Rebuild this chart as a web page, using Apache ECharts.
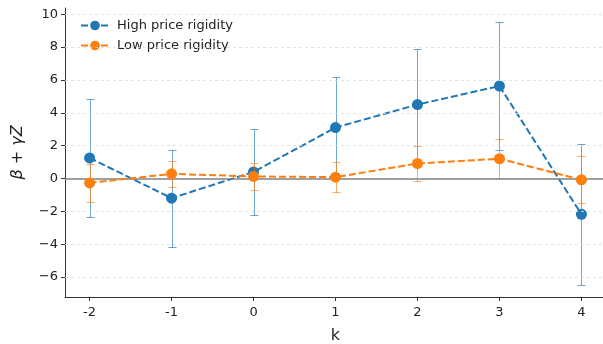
<!DOCTYPE html>
<html><head><meta charset="utf-8">
<script src="https://cdn.jsdelivr.net/npm/echarts@6/dist/echarts.min.js"></script>
<style>html,body{margin:0;padding:0;background:#fff;overflow:hidden}#c{width:603px;height:344px}</style>
</head><body><div id="c"></div>
<script>
var categories = [-2, -1, 0, 1, 2, 3, 4];
var highMean = [1.25, -1.2, 0.4, 3.1, 4.5, 5.63, -2.18];
var highErr  = [3.6, 2.95, 2.6, 3.1, 3.37, 3.9, 4.3];
var lowMean  = [-0.27, 0.28, 0.12, 0.08, 0.91, 1.2, -0.08];
var lowErr   = [1.17, 0.8, 0.83, 0.93, 1.07, 1.2, 1.42];
var xTicks = [-2, -1, 0, 1, 2, 3, 4];
var yTicks = [-6, -4, -2, 0, 2, 4, 6, 8, 10];

var BLUE = '#1f77b4', ORANGE = '#ff7f0e';
var FONT = 'DejaVu Sans';

function pts(m){ return categories.map(function(k,i){ return [k, m[i]]; }); }
function errs(m,e){ return categories.map(function(k,i){ return [k, m[i]-e[i], m[i]+e[i]]; }); }

function errRender(color){
  return function(params, api){
    var x = api.value(0), lo = api.value(1), hi = api.value(2);
    var p1 = api.coord([x, lo]), p2 = api.coord([x, hi]);
    var cx = Math.round(p1[0]) + 0.5;
    var y1 = Math.round(p1[1]) + 0.5, y2 = Math.round(p2[1]) + 0.5;
    var cw = 4;
    var st = {stroke: color, lineWidth: 1, opacity: 0.65};
    return {type:'group', children:[
      {type:'line', shape:{x1:cx,y1:y1,x2:cx,y2:y2}, style:st},
      {type:'line', shape:{x1:cx-cw,y1:y1,x2:cx+cw,y2:y1}, style:st},
      {type:'line', shape:{x1:cx-cw,y1:y2,x2:cx+cw,y2:y2}, style:st}
    ]};
  };
}

var gridLines = yTicks.filter(function(v){return v!==0;}).map(function(v){return {yAxis:v};});

var chart = echarts.init(document.getElementById('c'), null, {renderer:'canvas'});
chart.setOption({
  animation:false,
  textStyle:{fontFamily:FONT},
  grid:{left:65, top:8, width:541, bottom:47, containLabel:false, outerBoundsMode:'none'},
  legend:{
    left:75, top:14, orient:'vertical', itemWidth:28, itemHeight:12, itemGap:7,
    textStyle:{fontFamily:FONT, fontSize:13, color:'#222', padding:[0,0,0,3]},
    data:['High price rigidity','Low price rigidity']
  },
  xAxis:{
    type:'value', min:-2.3, max:4.3,
    name:'k', nameLocation:'middle', nameGap:31,
    nameTextStyle:{fontFamily:FONT, fontSize:16, color:'#222'},
    axisLine:{show:true, onZero:false, lineStyle:{color:'#333', width:1}},
    axisTick:{show:true, length:4, lineStyle:{color:'#333'}, customValues:xTicks},
    axisLabel:{fontFamily:FONT, fontSize:13, color:'#222', margin:9, customValues:xTicks},
    splitLine:{show:false}
  },
  yAxis:{
    type:'value', min:-7.22, max:10.38,
    name:'{i|β} + {i|γZ}', nameLocation:'middle', nameGap:39, nameRotate:90,
    nameTextStyle:{fontFamily:FONT, fontSize:16, color:'#222', rich:{i:{fontStyle:'italic', fontFamily:FONT, fontSize:16, color:'#222'}}},
    axisLine:{show:true, onZero:false, lineStyle:{color:'#333', width:1}},
    axisTick:{show:true, length:4, lineStyle:{color:'#333'}, customValues:yTicks},
    axisLabel:{fontFamily:FONT, fontSize:13, color:'#222', margin:7, customValues:yTicks,
      formatter:function(v){ return String(v).replace('-', '\u2212'); }},
    splitLine:{show:false}
  },
  series:[
    {type:'line', data:[], silent:true, z:1,
      markLine:{silent:true, symbol:'none', label:{show:false},
        lineStyle:{color:'#dddddd', type:[3,3], width:0.8}, data:gridLines}},
    {type:'line', data:[], silent:true, z:1,
      markLine:{silent:true, symbol:'none', label:{show:false},
        lineStyle:{color:'#808080', type:'solid', width:1.5}, data:[{yAxis:0}]}},
    {type:'custom', name:'hiErr', renderItem:errRender(BLUE), data:errs(highMean, highErr), z:2, silent:true,
      encode:{x:0, y:[1,2]}},
    {type:'line', name:'High price rigidity', data:pts(highMean), z:3,
      symbol:'circle', symbolSize:11, itemStyle:{color:BLUE},
      lineStyle:{color:BLUE, width:2, type:[7,3]}},
    {type:'custom', name:'loErr', renderItem:errRender(ORANGE), data:errs(lowMean, lowErr), z:4, silent:true,
      encode:{x:0, y:[1,2]}},
    {type:'line', name:'Low price rigidity', data:pts(lowMean), z:5,
      symbol:'circle', symbolSize:11, itemStyle:{color:ORANGE},
      lineStyle:{color:ORANGE, width:2, type:[7,3]}}
  ]
});
</script></body></html>
